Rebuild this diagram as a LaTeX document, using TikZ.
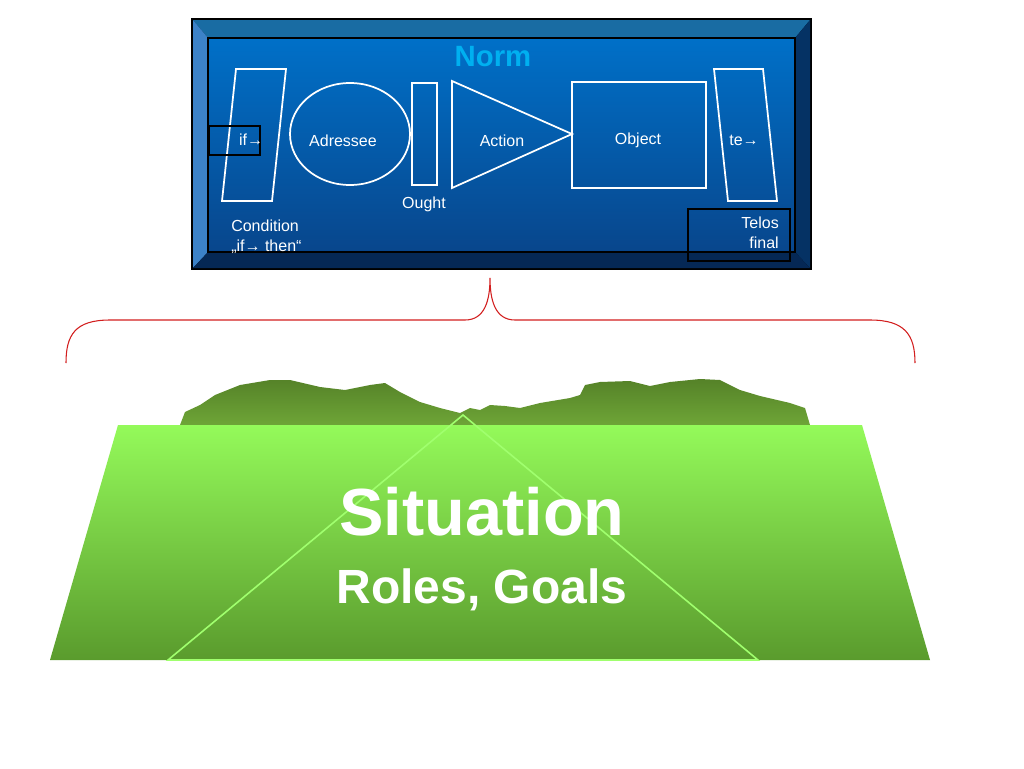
\documentclass[tikz,border=0pt]{standalone}
\usepackage{fontspec}
\setmainfont{Liberation Sans}
\begin{document}
\begin{tikzpicture}[x=0.75pt,y=-0.75pt,
  wl/.style={draw=white,line width=1.3pt},
  lbl/.style={text=white,font=\fontsize{12}{14}\selectfont,inner sep=0pt},
  blk/.style={draw=black,line width=1.2pt}]
\useasboundingbox (0,0) rectangle (1024,768);
% blue frame
\fill[black] (191,18) rectangle (812,270);
\fill[blue!40!cyan!60!black!90] (193,20) -- (810,20) -- (795,38) -- (208,38) -- cycle;
\fill[color={rgb,255:red,60;green,130;blue,200}] (193,20) -- (208,38) -- (208,252) -- (193,268) -- cycle;
\fill[color={rgb,255:red,5;green,50;blue,100}] (810,20) -- (810,268) -- (795,252) -- (795,38) -- cycle;
\fill[color={rgb,255:red,5;green,40;blue,85}] (193,268) -- (208,252) -- (795,252) -- (810,268) -- cycle;
\shade[top color={rgb,255:red,0;green,112;blue,200},bottom color={rgb,255:red,8;green,70;blue,140}] (208,38) rectangle (795,252);
\draw[black,line width=0.8pt] (208,38) rectangle (795,252);
\node[text={rgb,255:red,0;green,176;blue,240},font=\bfseries\fontsize{22}{26}\selectfont] (norm) at (493,57) {Norm};
% shapes
\draw[wl] (236,69) -- (286,69) -- (272,201) -- (222,201) -- cycle;
\draw[wl] (350,134) ellipse [x radius=60,y radius=51];
\draw[wl] (412,83) rectangle (437,185);
\draw[wl] (452,81) -- (572,134) -- (452,188) -- cycle;
\draw[wl] (572,82) rectangle (706,188);
\draw[wl] (714,69) -- (763,69) -- (777,201) -- (728,201) -- cycle;
\draw[blk] (209,126) rectangle (260,155);
\draw[blk] (688,209) rectangle (790,261);
\node[lbl] (if) at (251,140) {if→};
\node[lbl] (adr) at (343,141) {Adressee};
\node[lbl] (act) at (502,141) {Action};
\node[lbl] (obj) at (638,140) {Object};
\node[lbl] (te) at (744,140) {te→};
\node[lbl] (ought) at (424,204) {Ought};
\node[lbl,align=left,anchor=north west] (cond) at (231,220) {Condition\\[1pt]„if→ then“};
\node[lbl,align=right,anchor=north east] (telos) at (779,217) {Telos\\[1pt]final};
% brace
\draw[color={rgb,255:red,210;green,30;blue,30},line width=0.8pt]
 (66,363) .. controls (66,335) and (75,320) .. (110,320) -- (465,320)
 .. controls (485,320) and (490,300) .. (490,278)
 .. controls (490,300) and (495,320) .. (515,320) -- (870,320)
 .. controls (905,320) and (915,335) .. (915,363);
% mountains
\shade[top color={rgb,255:red,85;green,130;blue,40},bottom color={rgb,255:red,110;green,165;blue,55}]
 (180,425) -- (185,412) -- (200,405) -- (215,395) -- (240,385) -- (270,380) -- (290,380) -- (320,387) -- (345,390) -- (370,385) -- (385,383) -- (400,392) -- (420,402) -- (440,408) -- (460,413) -- (470,408) -- (480,410) -- (490,405) -- (505,406) -- (520,408) -- (540,403) -- (570,398) -- (580,395) -- (585,385) -- (600,382) -- (630,381) -- (650,386) -- (670,382) -- (700,379) -- (720,380) -- (740,390) -- (760,396) -- (790,403) -- (805,408) -- (810,425) -- cycle;
\shade[top color={rgb,255:red,148;green,250;blue,90},bottom color={rgb,255:red,90;green,155;blue,45}]
 (118,425) -- (862,425) -- (930,660) -- (50,660) -- cycle;
\draw[color={rgb,255:red,160;green,255;blue,110},line width=1.2pt] (463,415) -- (758,660) -- (168,660) -- cycle;
\node[text=white,font=\bfseries\fontsize{50}{56}\selectfont] (sit) at (482,512) {Situation};
\node[text=white,font=\bfseries\fontsize{36}{40}\selectfont] (roles) at (482,590) {Roles, Goals};
\end{tikzpicture}
\end{document}
